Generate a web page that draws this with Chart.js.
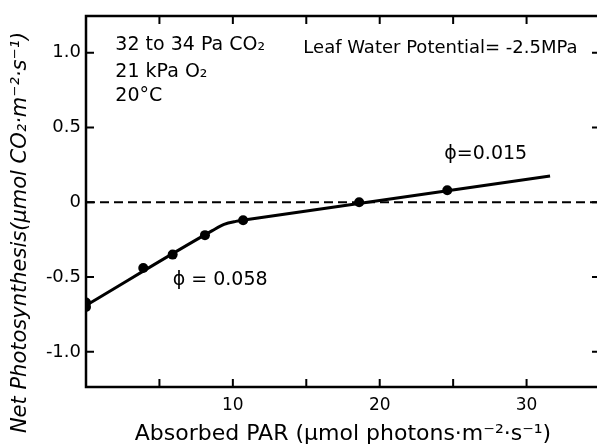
<!DOCTYPE html>
<html>
<head>
<meta charset="utf-8">
<script src="https://cdn.jsdelivr.net/npm/chart.js@4"></script>
<style>
  html, body { margin: 0; padding: 0; background: #fff; overflow: hidden; }
  #wrap { width: 608px; height: 447px; }
</style>
</head>
<body>
<div id="wrap"><canvas id="chart"></canvas></div>
<script>
// ============================== DATA

const parX = [0, 0, 3.9, 5.9, 8.1, 10.7, 18.6, 24.6];
const photoY = [-0.67, -0.70, -0.44, -0.35, -0.22, -0.12, 0.0, 0.08];

// fitted response (two quantum-yield segments with a bend)
const fitX = [0, 8.6, 9.4, 10.2, 11, 31.6];
const fitY = [-0.69, -0.19, -0.148, -0.128, -0.116, 0.175];

const zeroX = [0, 35];
const zeroY = [0, 0];

const xTicks = [5, 10, 15, 20, 25, 30, 35];
const xTickLabels = ['', '10', '', '20', '', '30', ''];
const yTicks = [-1.0, -0.5, 0, 0.5, 1.0];
const yTickLabels = ['-1.0', '-0.5', '0', '0.5', '1.0'];

const notes = [
  { x: 2.0, y: 1.05, text: '32 to 34 Pa CO₂', size: 19 },
  { x: 2.0, y: 0.87, text: '21 kPa O₂', size: 19 },
  { x: 2.0, y: 0.71, text: '20°C', size: 19 },
  { x: 14.8, y: 1.03, text: 'Leaf Water Potential= -2.5MPa', size: 18 },
  { x: 5.9, y: -0.52, text: 'ϕ = 0.058', size: 19 },
  { x: 24.4, y: 0.32, text: 'ϕ=0.015', size: 19 },
];

const FONT = '"DejaVu Sans", sans-serif';

// ============================== UTILS

function toPoints(xs, ys) {
  return xs.map((x, i) => ({ x: x, y: ys[i] }));
}

function frameAndNotes() {
  return {
    id: 'frameAndNotes',
    afterDraw(chart) {
      const { ctx, chartArea: { left, right, top, bottom }, scales: { x, y } } = chart;
      ctx.save();
      ctx.strokeStyle = '#000';
      ctx.lineWidth = 2.5;
      ctx.strokeRect(left, top, right - left, bottom - top);

      // inward tick marks on all four sides
      ctx.lineWidth = 2;
      ctx.beginPath();
      for (const v of xTicks) {
        const px = x.getPixelForValue(v);
        ctx.moveTo(px, bottom); ctx.lineTo(px, bottom - 8);
        ctx.moveTo(px, top); ctx.lineTo(px, top + 8);
      }
      for (const v of yTicks) {
        const py = y.getPixelForValue(v);
        ctx.moveTo(left, py); ctx.lineTo(left + 8, py);
        ctx.moveTo(right, py); ctx.lineTo(right - 8, py);
      }
      ctx.stroke();

      ctx.fillStyle = '#000';
      ctx.textBaseline = 'middle';
      ctx.textAlign = 'left';
      for (const n of notes) {
        ctx.font = n.size + 'px ' + FONT;
        ctx.fillText(n.text, x.getPixelForValue(n.x), y.getPixelForValue(n.y));
      }

      // y axis title
      ctx.translate(21, (top + bottom) / 2 + 31);
      ctx.rotate(-Math.PI / 2);
      ctx.textAlign = 'center';
      ctx.font = 'italic 21px ' + FONT;
      ctx.fillText('Net Photosynthesis(μmol CO₂·m⁻²·s⁻¹)', 0, 0);
      ctx.restore();
    }
  };
}

// ============================== CHART JS

Chart.defaults.font.family = FONT;
Chart.defaults.color = '#000';

new Chart(document.getElementById('chart'), {
  type: 'scatter',
  data: {
    datasets: [
      {
        label: 'zero',
        data: toPoints(zeroX, zeroY),
        showLine: true,
        borderColor: '#000',
        borderWidth: 2,
        borderDash: [9, 5],
        pointRadius: 0,
      },
      {
        label: 'fit',
        data: toPoints(fitX, fitY),
        showLine: true,
        borderColor: '#000',
        borderWidth: 3,
        cubicInterpolationMode: 'monotone',
        pointRadius: 0,
      },
      {
        label: 'measured',
        data: toPoints(parX, photoY),
        pointRadius: 5,
        pointBackgroundColor: '#000',
        pointBorderColor: '#000',
        pointBorderWidth: 0,
      },
    ]
  },
  options: {
    responsive: true,
    maintainAspectRatio: false,
    animation: false,
    layout: { padding: { top: 16, right: 4, left: 0, bottom: 0 } },
    plugins: {
      legend: { display: false },
      tooltip: { enabled: false },
    },
    scales: {
      x: {
        type: 'linear',
        min: 0,
        max: 35,
        grid: { display: false, drawTicks: false },
        border: { display: false },
        afterBuildTicks: s => { s.ticks = xTicks.map(v => ({ value: v })); },
        afterFit: s => { s.height = 60; },
        ticks: {
          padding: 8,
          maxRotation: 0,
          autoSkip: false,
          font: { size: 17 },
          callback: (v, i) => xTickLabels[i],
        },
        title: {
          display: true,
          text: 'Absorbed PAR (μmol photons·m⁻²·s⁻¹)',
          font: { size: 22 },
          padding: { top: 0, bottom: 0 },
        },
      },
      y: {
        type: 'linear',
        min: -1.235,
        max: 1.245,
        grid: { display: false, drawTicks: false },
        border: { display: false },
        afterBuildTicks: s => { s.ticks = yTicks.map(v => ({ value: v })); },
        afterFit: s => { s.width = 86; },
        ticks: {
          padding: 5,
          autoSkip: false,
          font: { size: 18 },
          callback: (v, i) => yTickLabels[i],
        },
      },
    },
  },
  plugins: [frameAndNotes()],
});
</script>
</body>
</html>
